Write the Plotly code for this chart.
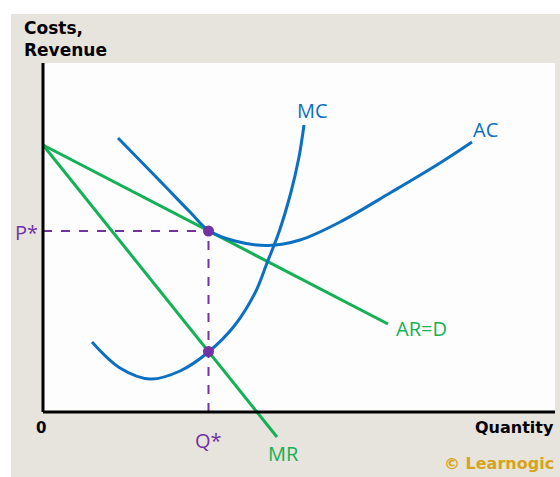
import plotly.graph_objects as go

# ---- data (quantity, cost units) ----
ac_q = [1.50, 2.34, 2.94, 3.31, 3.84, 4.50, 5.14, 5.94, 6.94, 7.94, 8.58]
ac_c = [5.48, 4.62, 4.00, 3.63, 3.42, 3.33, 3.44, 3.80, 4.38, 4.98, 5.40]

mc_q = [0.98, 1.54, 2.14, 2.74, 3.31, 3.84, 4.24, 4.48, 4.72, 4.96, 5.12, 5.22]
mc_c = [1.40, 0.88, 0.66, 0.82, 1.20, 1.74, 2.38, 2.98, 3.60, 4.40, 5.10, 5.74]

ar_q = [0.0, 6.90]
ar_c = [5.34, 1.76]

mr_q = [0.0, 4.68]
mr_c = [5.34, -0.50]

q_star = 3.31
p_star = 3.62
mr_at_q = 1.21

x_max = 10.24
y_max = 6.98

BLUE = "#0b6fc2"
GREEN = "#12b153"
PURPLE = "#7232a3"
GOLD = "#d6a31a"

# pixel -> data helpers (for label placement)
def X(p):
    return (p - 43) / 50.0

def Y(p):
    return (412 - p) / 50.0

fig = go.Figure()

fig.add_trace(go.Scatter(x=[0, q_star], y=[p_star, p_star], mode="lines",
                         line=dict(color=PURPLE, width=2, dash="dash"), hoverinfo="skip"))
fig.add_trace(go.Scatter(x=[q_star, q_star], y=[0, p_star], mode="lines",
                         line=dict(color=PURPLE, width=2, dash="dash"), hoverinfo="skip"))

fig.add_trace(go.Scatter(x=ar_q, y=ar_c, mode="lines", line=dict(color=GREEN, width=3)))
fig.add_trace(go.Scatter(x=mr_q, y=mr_c, mode="lines", line=dict(color=GREEN, width=3)))
fig.add_trace(go.Scatter(x=ac_q, y=ac_c, mode="lines", line=dict(color=BLUE, width=3, shape="spline", smoothing=1.0)))
fig.add_trace(go.Scatter(x=mc_q, y=mc_c, mode="lines", line=dict(color=BLUE, width=3, shape="spline", smoothing=1.0)))

fig.add_trace(go.Scatter(x=[q_star, q_star], y=[p_star, mr_at_q], mode="markers",
                         marker=dict(color=PURPLE, size=11)))

shapes = [
    dict(type="rect", xref="paper", yref="paper", x0=11 / 560, x1=1, y0=0, y1=1 - 14 / 477,
         fillcolor="#e7e3dd", line=dict(width=0), layer="below"),
    dict(type="rect", xref="x", yref="y", x0=0, x1=x_max, y0=0, y1=y_max,
         fillcolor="#fdfdfd", line=dict(width=0), layer="below"),
    dict(type="line", xref="x", yref="y", x0=0, x1=0, y0=0, y1=y_max,
         line=dict(color="black", width=3), layer="above"),
    dict(type="line", xref="x", yref="y", x0=0, x1=x_max, y0=0, y1=0,
         line=dict(color="black", width=3), layer="above"),
]

LBL = "Open Sans"
BOLD = "DejaVu Sans"

annotations = [
    dict(x=X(22), y=Y(16), text="<b>Costs,<br>Revenue</b>", xanchor="left", yanchor="top",
         align="left", font=dict(family=BOLD, size=17, color="black")),
    dict(x=X(41), y=Y(428), text="<b>0</b>", font=dict(family=BOLD, size=15, color="black")),
    dict(x=X(556), y=Y(427), text="<b>Quantity</b>", xanchor="right",
         font=dict(family=BOLD, size=16, color="black")),
    dict(x=X(556), y=Y(463), text="<b>© Learnogic</b>", xanchor="right",
         font=dict(family=BOLD, size=16, color=GOLD)),
    dict(x=X(26), y=Y(232), text="P*", font=dict(family=LBL, size=20, color=PURPLE)),
    dict(x=X(208), y=Y(440), text="Q*", font=dict(family=LBL, size=20, color=PURPLE)),
    dict(x=X(312), y=Y(110), text="MC", font=dict(family=LBL, size=20, color=BLUE)),
    dict(x=X(485), y=Y(129), text="AC", font=dict(family=LBL, size=20, color=BLUE)),
    dict(x=X(421), y=Y(328), text="AR=D", font=dict(family=LBL, size=20, color=GREEN)),
    dict(x=X(283), y=Y(453), text="MR", font=dict(family=LBL, size=20, color=GREEN)),
]
for a in annotations:
    a.setdefault("xref", "x")
    a.setdefault("yref", "y")
    a["showarrow"] = False

fig.update_layout(
    width=560, height=477,
    margin=dict(l=0, r=0, t=0, b=0),
    paper_bgcolor="white", plot_bgcolor="rgba(0,0,0,0)",
    showlegend=False,
    xaxis=dict(range=[X(0), X(560)], visible=False, fixedrange=True),
    yaxis=dict(range=[Y(477), Y(0)], visible=False, fixedrange=True),
    shapes=shapes, annotations=annotations,
)

fig.write_html("out.html", config={"displayModeBar": False},
               post_script="document.body.style.margin='0';document.body.style.overflow='hidden';")
